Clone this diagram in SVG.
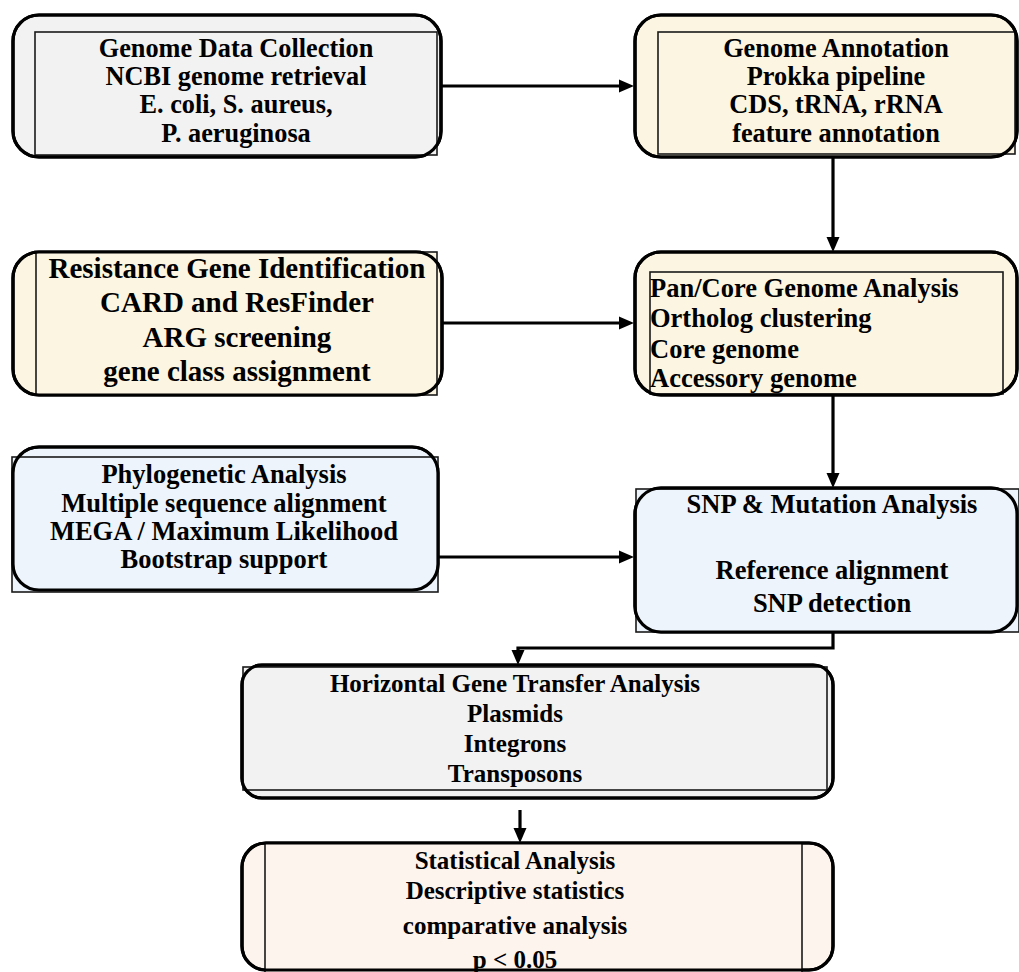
<svg xmlns="http://www.w3.org/2000/svg" width="1019" height="972" viewBox="0 0 1019 972">
<defs>
<marker id="ah" markerUnits="userSpaceOnUse" markerWidth="16" markerHeight="14" refX="10" refY="7" orient="auto">
<path d="M0,0.5 L15,7 L0,13.5 Z" fill="#000"/>
</marker>
</defs>
<style>
.outer{stroke:#000;stroke-width:3.2}
.edge{fill:none;stroke:#000;stroke-width:3.2}
.inner{stroke:#1a1a1a;stroke-width:1.6}
.gray{fill:#f2f2f2}
.cream{fill:#fcf5e2}
.blue{fill:#edf4fb}
.peach{fill:#fef4ee}
text{font-family:"Liberation Serif","Times New Roman",serif;font-weight:bold;fill:#000}
.c{text-anchor:middle}
.conn{fill:none;stroke:#000;stroke-width:3.2}
</style>
<rect width="1019" height="972" fill="#fff"/>
<g id="n1">
<rect class="outer gray" x="13" y="15" width="428" height="142" rx="26"/>
<rect class="inner gray" x="35" y="32" width="402" height="123"/>
<rect class="edge" x="13" y="15" width="428" height="142" rx="26"/>
<text class="c" font-size="26.3" x="236"><tspan x="236" y="57">Genome Data Collection</tspan><tspan x="236" y="85">NCBI genome retrieval</tspan><tspan x="236" y="113">E. coli, S. aureus,</tspan><tspan x="236" y="142">P. aeruginosa</tspan></text>
</g>
<g id="n2">
<rect class="outer cream" x="635" y="15" width="382" height="142" rx="26"/>
<rect class="inner cream" x="658" y="32" width="357" height="122"/>
<rect class="edge" x="635" y="15" width="382" height="142" rx="26"/>
<text class="c" font-size="26.3" x="836"><tspan x="836" y="57">Genome Annotation</tspan><tspan x="836" y="85">Prokka pipeline</tspan><tspan x="836" y="113">CDS, tRNA, rRNA</tspan><tspan x="836" y="142">feature annotation</tspan></text>
</g>
<g id="n3">
<rect class="outer cream" x="13" y="252" width="429" height="143" rx="26"/>
<rect class="inner cream" x="36" y="252" width="401" height="143"/>
<rect class="edge" x="13" y="252" width="429" height="143" rx="26"/>
<text class="c" font-size="29" x="237"><tspan x="237" y="278">Resistance Gene Identification</tspan><tspan x="237" y="312">CARD and ResFinder</tspan><tspan x="237" y="347">ARG screening</tspan><tspan x="237" y="381">gene class assignment</tspan></text>
</g>
<g id="n4">
<rect class="outer cream" x="635" y="252" width="382" height="143" rx="26"/>
<rect class="inner cream" x="650" y="272" width="353" height="122"/>
<rect class="edge" x="635" y="252" width="382" height="143" rx="26"/>
<text font-size="26.5" x="650"><tspan x="650" y="297">Pan/Core Genome Analysis</tspan><tspan x="650" y="327">Ortholog clustering</tspan><tspan x="650" y="358">Core genome</tspan><tspan x="650" y="387">Accessory genome</tspan></text>
</g>
<g id="n5">
<rect class="outer blue" x="13" y="447" width="425" height="143" rx="26"/>
<rect class="inner blue" x="12" y="457" width="426" height="135"/>
<rect class="edge" x="13" y="447" width="425" height="143" rx="26"/>
<text class="c" font-size="26.5" x="224"><tspan x="224" y="483">Phylogenetic Analysis</tspan><tspan x="224" y="512">Multiple sequence alignment</tspan><tspan x="224" y="540">MEGA / Maximum Likelihood</tspan><tspan x="224" y="568">Bootstrap support</tspan></text>
</g>
<g id="n6">
<rect class="outer blue" x="635" y="488" width="382" height="144" rx="26"/>
<rect class="inner blue" x="636" y="489" width="383" height="143"/>
<rect class="edge" x="635" y="488" width="382" height="144" rx="26"/>
<text class="c" font-size="26.5" x="832"><tspan x="832" y="513">SNP &amp; Mutation Analysis</tspan><tspan x="832" y="579">Reference alignment</tspan><tspan x="832" y="612">SNP detection</tspan></text>
</g>
<g id="n7">
<rect class="outer gray" x="242" y="665" width="591" height="133" rx="20"/>
<rect class="inner gray" x="243" y="667" width="584" height="123"/>
<rect class="edge" x="242" y="665" width="591" height="133" rx="20"/>
<text class="c" font-size="25" x="515"><tspan x="515" y="692">Horizontal Gene Transfer Analysis</tspan><tspan x="515" y="722">Plasmids</tspan><tspan x="515" y="752">Integrons</tspan><tspan x="515" y="782">Transposons</tspan></text>
</g>
<g id="n8">
<rect class="outer peach" x="242" y="843" width="591" height="127" rx="24"/>
<rect class="inner peach" x="265" y="843" width="537" height="140"/>
<rect class="edge" x="242" y="843" width="591" height="127" rx="24"/>
<text class="c" font-size="25" x="515"><tspan x="515" y="869">Statistical Analysis</tspan><tspan x="515" y="899">Descriptive statistics</tspan><tspan x="515" y="934">comparative analysis</tspan><tspan x="515" y="968">p &lt; 0.05</tspan></text>
</g>
<g id="connectors">
<path class="conn" d="M441,86 H629" marker-end="url(#ah)"/>
<path class="conn" d="M833,157 V247" marker-end="url(#ah)"/>
<path class="conn" d="M442,323 H629" marker-end="url(#ah)"/>
<path class="conn" d="M833,395 V483" marker-end="url(#ah)"/>
<path class="conn" d="M438,557 H629" marker-end="url(#ah)"/>
<path class="conn" d="M833,632 V648 H518 V660" marker-end="url(#ah)"/>
<path class="conn" d="M520,810 V838" marker-end="url(#ah)"/>
</g>
</svg>
